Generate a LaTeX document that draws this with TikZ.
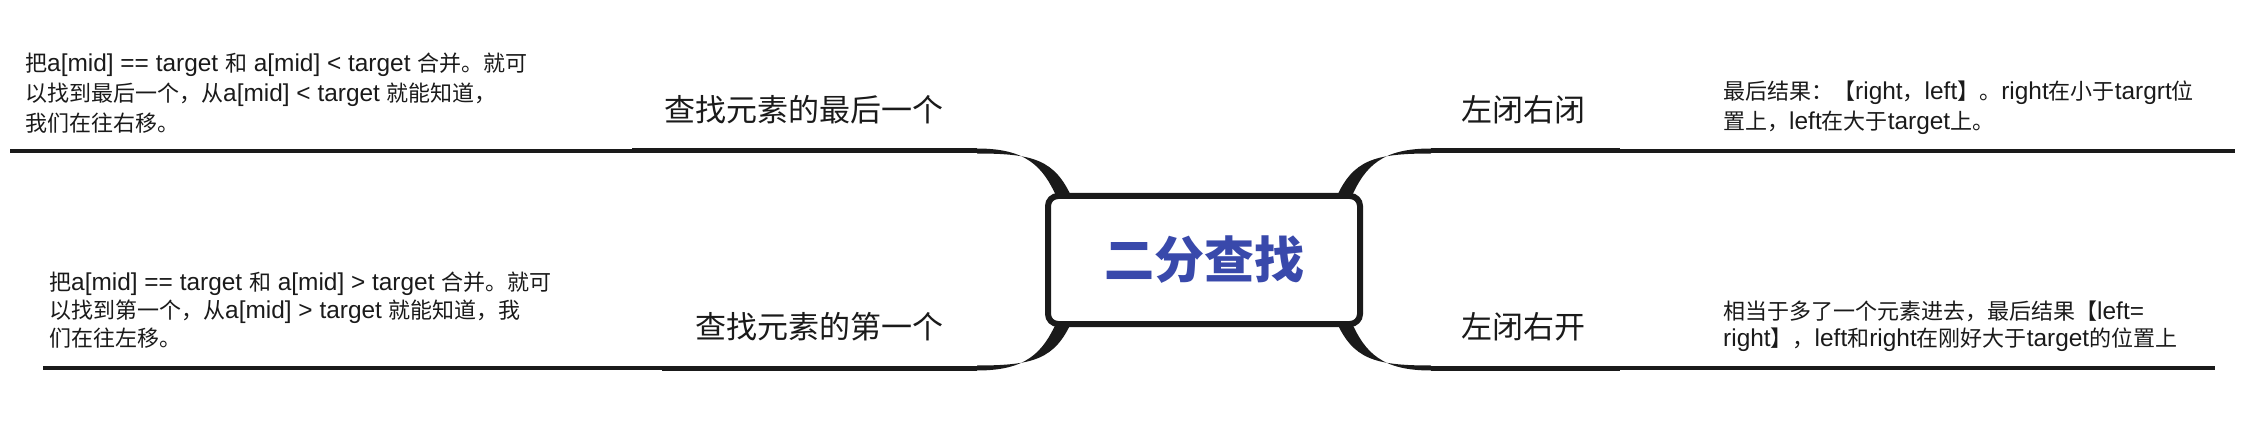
\documentclass[tikz,border=0pt]{standalone}
\usepackage{fontspec}
\setmainfont{Noto Sans CJK SC}
\newfontfamily\latinfont[Scale=1.11]{Liberation Sans}
\newcommand{\E}[1]{{\latinfont #1}}
\definecolor{rootblue}{HTML}{3949AB}
\definecolor{ink}{HTML}{1A1A1A}
\begin{document}
\begin{tikzpicture}[x=1pt,y=-1pt,
  notetext/.style={anchor=west,align=left,inner sep=0pt,text=ink},
  topictext/.style={inner sep=0pt,font=\fontsize{31}{37}\selectfont,text=ink},
  noteline/.style={line width=3.5pt,draw=ink},
  topicline/.style={line width=5pt,draw=ink},
  branch/.style={fill=ink},
  rootbox/.style={draw=ink,line width=6pt,fill=white,rounded corners=10pt,minimum width=312pt,minimum height=128pt,inner sep=0pt,font=\fontsize{50}{60}\selectfont\bfseries,text=rootblue}]
\useasboundingbox (0,0) rectangle (2258,438);

% end points of lines
\coordinate (tlN) at (10,151);
\coordinate (tlT) at (632,151);
\coordinate (tlC) at (977,151);
\coordinate (blN) at (43,368);
\coordinate (blT) at (662,368);
\coordinate (blC) at (977,368);
\coordinate (trC) at (1431,151);
\coordinate (trT) at (1620,151);
\coordinate (trN) at (2235,151);
\coordinate (brC) at (1431,368);
\coordinate (brT) at (1620,368);
\coordinate (brN) at (2215,368);

% tapered branches
\fill[branch] (977,148.5) .. controls (1026,148.5) and (1043,166) .. (1057,198) -- (1072,198) .. controls (1055,160) and (1034,153.5) .. (977,153.5) -- cycle;
\fill[branch] (1431,148.5) .. controls (1382,148.5) and (1365,166) .. (1351,198) -- (1336,198) .. controls (1353,160) and (1374,153.5) .. (1431,153.5) -- cycle;
\fill[branch] (977,370.5) .. controls (1026,370.5) and (1043,353) .. (1057,321) -- (1072,321) .. controls (1055,359) and (1034,365.5) .. (977,365.5) -- cycle;
\fill[branch] (1431,370.5) .. controls (1382,370.5) and (1365,353) .. (1351,321) -- (1336,321) .. controls (1353,359) and (1374,365.5) .. (1431,365.5) -- cycle;

% root
\node[rootbox] (root) at (1204,260) {二分查找};

% topic lines
\draw[topicline] (tlT) -- (tlC);
\draw[topicline] (blT) -- (blC);
\draw[topicline] (trC) -- (trT);
\draw[topicline] (brC) -- (brT);
% note lines
\draw[noteline] (tlN) -- (tlT);
\draw[noteline] (blN) -- (blT);
\draw[noteline] (trT) -- (trN);
\draw[noteline] (brT) -- (brN);

% topic texts
\node[topictext,anchor=east] (tl) at (944,110) {查找元素的最后一个};
\node[topictext,anchor=east] (bl) at (944,327) {查找元素的第一个};
\node[topictext,anchor=west] (tr) at (1461,110) {左闭右闭};
\node[topictext,anchor=west] (br) at (1461,327) {左闭右开};

% notes
\node[notetext,font=\fontsize{22}{30}\selectfont] (tln) at (25,93) {把\E{a[mid] == target }和\E{ a[mid] < target }合并。就可\\以找到最后一个，从\E{a[mid] < target }就能知道，\\我们在往右移。};
\node[notetext,font=\fontsize{22}{28}\selectfont] (bln) at (49,310) {把\E{a[mid] == target }和\E{ a[mid] > target }合并。就可\\以找到第一个，从\E{a[mid] > target }就能知道，我\\们在往左移。};
\node[notetext,font=\fontsize{22}{30}\selectfont] (trn) at (1723,108) {最后结果：【\E{right}，\E{left}】。\E{right}在小于\E{targrt}位\\置上，\E{left}在大于\E{target}上。};
\node[notetext,font=\fontsize{22}{27}\selectfont] (brn) at (1723,326.5) {相当于多了一个元素进去，最后结果【\E{left=}\\\E{right}】，\E{left}和\E{right}在刚好大于\E{target}的位置上};
\end{tikzpicture}
\end{document}
